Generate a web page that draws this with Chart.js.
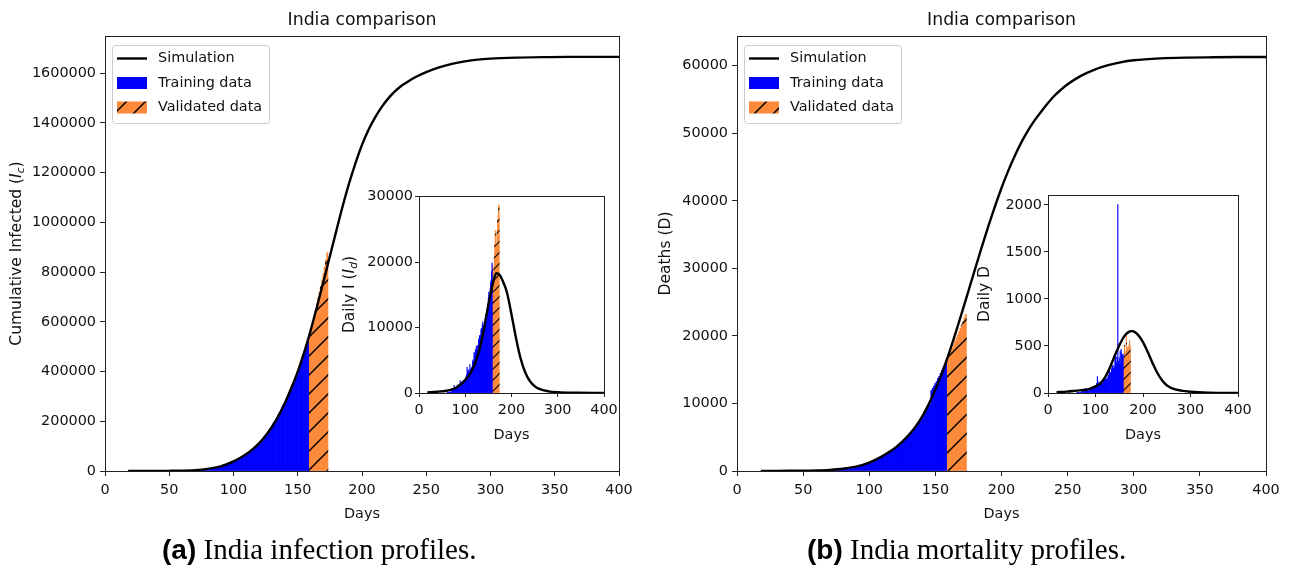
<!DOCTYPE html>
<html>
<head>
<meta charset="utf-8">
<script src="https://cdn.jsdelivr.net/npm/chart.js@4.4.1/dist/chart.umd.min.js"></script>
<style>
  body { margin: 0; width: 1295px; height: 569px; background: #fff; position: relative; overflow: hidden; }
  canvas { position: absolute; }
  .cap { position: absolute; top: 533px; font: 29px "Liberation Serif", serif; white-space: nowrap; color: #000; }
  .cap b { font-family: "Liberation Sans", sans-serif; font-size: 28px; }
</style>
</head>
<body>
<canvas id="mainCases" width="640" height="569" style="left:0;top:0"></canvas>
<canvas id="mainDeaths" width="655" height="569" style="left:640px;top:0"></canvas>
<canvas id="dailyCases" width="300" height="270" style="left:330px;top:180px"></canvas>
<canvas id="dailyDeaths" width="300" height="270" style="left:960px;top:180px"></canvas>
<div class="cap" style="left:162px"><b>(a)</b> India infection profiles.</div>
<div class="cap" style="left:807px"><b>(b)</b> India mortality profiles.</div>
<script>
// reported data starts at day 61; days up to 158 were used for fitting, 159-173 held out
const firstDay = 61;

const casesTrain = [
  396, 499, 536, 657, 727, 887, 987, 1024, 1251, 1397,
  1998, 2543, 2567, 3082, 3588, 4778, 5311, 5916, 6725, 7598,
  8446, 9205, 10453, 11487, 12322, 13430, 14352, 15722, 17615, 18539,
  20080, 21370, 23077, 24530, 26283, 27890, 29451, 31324, 33062, 34863,
  37257, 39699, 42505, 46437, 49400, 52987, 56351, 59695, 62808, 67161,
  70768, 74292, 78055, 81997, 85784, 90648, 95698, 100328, 106475, 112028,
  118226, 124794, 131423, 138536, 144950, 150793, 158086, 165386, 173491, 181827, 190609,
  198370, 207191, 216824, 226713, 236184, 246622, 257486, 265928, 276146, 286579,
  297535, 308993, 320922, 332424, 343091, 354065, 366946, 380532, 395048, 410451,
  425282, 440215, 456183, 473105, 490401, 508953, 528859
];
const casesValid = [548318, 566840, 585481, 604641, 625544, 648315, 673165, 697413,
  719665, 742417, 767296, 793802, 820916, 849553, 878254];

const dailyCasesTrain = [
  66, 103, 37, 121, 70, 160, 100, 37, 227, 146,
  601, 545, 24, 515, 506, 1190, 533, 605, 809, 873,
  848, 759, 1248, 1034, 835, 1108, 922, 1370, 1893, 924,
  1541, 1290, 1707, 1453, 1753, 1607, 1561, 1873, 1738, 1801,
  2394, 2442, 2806, 3932, 2963, 3587, 3364, 3344, 3113, 4353,
  3607, 3524, 3763, 3942, 3787, 4864, 5050, 4630, 6147, 5553,
  6198, 6568, 6629, 7113, 6414, 5843, 7293, 7300, 8105, 8336, 8782,
  7761, 8821, 9633, 9889, 9471, 10438, 10864, 8442, 10218, 10433,
  10956, 11458, 11929, 11502, 10667, 10974, 12881, 13586, 14516, 15403,
  14831, 14933, 15968, 16922, 17296, 18552, 19906
];
const dailyCasesValid = [19459, 18522, 18641, 19160, 20903, 22771, 24850, 24248,
  22252, 22752, 24879, 26506, 27114, 28637, 28701];

const deathsTrain = [
  7, 10, 10, 12, 20, 20, 24, 27, 32, 35,
  58, 72, 72, 86, 99, 136, 150, 178, 226, 246,
  288, 331, 358, 393, 405, 448, 486, 521, 559, 592,
  645, 681, 721, 780, 825, 881, 939, 1008, 1079, 1154,
  1223, 1323, 1391, 1566, 1694, 1783, 1889, 1985, 2101, 2212,
  2294, 2415, 2551, 2649, 2753, 2871, 3025, 3156, 3302, 3434,
  3584, 3726, 3868, 4024, 4172, 4344, 4534, 4711, 4980, 5185, 5408,
  5608, 5829, 6088, 6363, 6649, 6946, 7207, 7473, 7750, 8102,
  8498, 8884, 9195, 9520, 9900, 11903, 12237, 12573, 12948, 13254,
  13699, 14011, 14476, 14894, 15301, 15685, 16095
];
const deathsValid = [16475, 16893, 17400, 17834, 18213, 18655, 19268, 19693,
  20160, 20642, 21129, 21604, 22123, 22674, 23174];

const dailyDeathsTrain = [
  2, 3, 0, 2, 8, 0, 4, 3, 5, 3,
  23, 14, 0, 14, 13, 37, 14, 28, 48, 20,
  42, 43, 27, 35, 12, 43, 38, 35, 38, 33,
  53, 36, 40, 59, 45, 56, 58, 69, 71, 75,
  69, 100, 68, 175, 128, 89, 106, 96, 116, 111,
  82, 121, 136, 98, 104, 118, 154, 131, 146, 132,
  150, 142, 142, 156, 148, 172, 190, 177, 269, 205, 223,
  200, 221, 259, 275, 286, 297, 261, 266, 277, 352,
  396, 386, 311, 325, 380, 2003, 334, 336, 375, 306,
  445, 312, 465, 418, 407, 384, 410
];
const dailyDeathsValid = [380, 418, 507, 434, 379, 442, 613, 425, 467, 482, 487, 475, 519, 551, 500];

// model output, cumulative
const simDays = [18, 30, 40, 50, 60, 70, 80, 90, 100, 105, 110, 115, 120, 125, 130, 135, 140, 145,
  150, 155, 160, 165, 170, 175, 180, 185, 190, 195, 200, 205, 210, 215, 220, 225, 230, 235, 240,
  245, 250, 260, 270, 280, 290, 300, 320, 340, 360, 380, 400];
const simCases = [100, 200, 350, 700, 1500, 3500, 8500, 19000, 39000, 52000, 68000, 88000,
  112000, 142000, 178000, 222000, 274000, 334000, 400000, 477000, 565000, 662000, 762000, 864000,
  966000, 1066000, 1158000, 1240000, 1312000, 1372000, 1421000, 1462000, 1496000, 1524000, 1547000,
  1564000, 1580000, 1593000, 1605000, 1624000, 1638000, 1648000, 1655000, 1659000, 1663000, 1665000,
  1666000, 1666000, 1666000];
const simDeaths = [5, 15, 30, 50, 90, 170, 330, 650, 1250, 1700, 2200, 2800, 3500, 4350, 5350, 6550,
  8050, 9900, 12050, 14500, 17250, 20250, 23400, 26650, 29900, 33100, 36200, 39150, 41900, 44400,
  46650, 48650, 50400, 51900, 53200, 54430, 55550, 56450, 57250, 58500, 59400, 60050, 60500, 60800,
  61080, 61200, 61250, 61280, 61300];

// model output, per day
const simDailyCaseDays = [18, 40, 60, 70, 80, 90, 100, 110, 120, 130, 140, 150, 160, 167, 175, 180,
  190, 200, 210, 220, 230, 240, 250, 260, 280, 300, 340, 400];
const simDailyCases = [100, 200, 350, 500, 800, 1300, 2000, 2900, 4300, 6500, 9600, 13500, 16800,
  18300, 18000, 17300, 15400, 12000, 8300, 5200, 3100, 1800, 1050, 620, 250, 110, 30, 5];
const simDailyDeathDays = [18, 40, 60, 80, 90, 100, 110, 120, 130, 140, 150, 160, 170, 176, 180,
  190, 200, 210, 220, 230, 240, 250, 260, 280, 300, 340, 400];
const simDailyDeaths = [8, 15, 25, 35, 50, 70, 100, 165, 265, 390, 505, 600, 650, 658, 655, 615,
  540, 435, 320, 215, 135, 82, 52, 25, 13, 4, 1];

const BLUE = '#0000ff';
const ORANGE = '#fc8a3a';
const INK = '#111';
const FONT = '"DejaVu Sans", sans-serif';

Chart.defaults.font.family = FONT;
Chart.defaults.color = INK;

const xy = (xs, ys) => ys.map((y, i) => ({ x: xs[i], y }));
const dayRange = (start, n) => Array.from({ length: n }, (_, i) => start + i);
const trainDays = dayRange(firstDay, casesTrain.length);
const validDays = dayRange(firstDay + casesTrain.length, casesValid.length);

// orange fill with '/' hatching, anchored to the canvas so it runs across bars
function hatch(ctx, step, lw) {
  const tile = document.createElement('canvas');
  tile.width = tile.height = step;
  const g = tile.getContext('2d');
  g.fillStyle = ORANGE;
  g.fillRect(0, 0, step, step);
  g.strokeStyle = '#000';
  g.lineWidth = lw;
  g.beginPath();
  for (const k of [-step, 0, step]) {
    g.moveTo(k - 1, step + 1);
    g.lineTo(k + step + 1, -1);
  }
  g.stroke();
  return ctx.createPattern(tile, 'repeat');
}

// text made of runs, some italic or lowered as subscripts
function richText(ctx, parts, x, y, size, vertical) {
  const fontOf = p => (p.it ? 'italic ' : '') + (p.sub ? size * 0.7 : size) + 'px ' + FONT;
  ctx.save();
  ctx.translate(x, y);
  if (vertical) ctx.rotate(-Math.PI / 2);
  ctx.textAlign = 'left';
  ctx.textBaseline = 'middle';
  ctx.fillStyle = INK;
  let w = 0;
  parts.forEach(p => { ctx.font = fontOf(p); w += ctx.measureText(p.t).width; });
  let cx = -w / 2;
  parts.forEach(p => {
    ctx.font = fontOf(p);
    ctx.fillText(p.t, cx, p.sub ? size * 0.28 : 0);
    cx += ctx.measureText(p.t).width;
  });
  ctx.restore();
}

function roundBox(ctx, x, y, w, h, r) {
  ctx.beginPath();
  ctx.moveTo(x + r, y);
  ctx.arcTo(x + w, y, x + w, y + h, r);
  ctx.arcTo(x + w, y + h, x, y + h, r);
  ctx.arcTo(x, y + h, x, y, r);
  ctx.arcTo(x, y, x + w, y, r);
  ctx.closePath();
}

// white axes face, full frame, titles and the in-plot legend
const panelDecor = {
  id: 'panelDecor',
  beforeDraw(chart) {
    const { ctx, chartArea: a } = chart;
    ctx.save();
    ctx.fillStyle = '#fff';
    ctx.fillRect(a.left, a.top, a.width, a.height);
    ctx.restore();
  },
  afterDraw(chart, args, o) {
    const { ctx, chartArea: a } = chart;
    ctx.save();
    ctx.strokeStyle = '#222';
    ctx.lineWidth = 1;
    ctx.strokeRect(Math.round(a.left) + 0.5, Math.round(a.top) + 0.5, Math.round(a.width), Math.round(a.height));

    ctx.fillStyle = INK;
    ctx.textAlign = 'center';
    ctx.textBaseline = 'middle';
    const cx = (a.left + a.right) / 2;
    if (o.title) {
      ctx.font = '17.3px ' + FONT;
      ctx.fillText(o.title, cx, a.top - 15.5);
    }
    ctx.font = '14.4px ' + FONT;
    ctx.fillText(o.xTitle, cx, a.bottom + o.xGap);
    richText(ctx, o.yTitle, a.left - o.yGap, (a.top + a.bottom) / 2, 15.5, true);

    if (o.legend) {
      const bx = a.left + 7, by = a.top + 9, bw = 157, bh = 78;
      roundBox(ctx, bx + 0.5, by + 0.5, bw, bh, 3);
      ctx.fillStyle = 'rgba(255,255,255,0.8)';
      ctx.fill();
      ctx.strokeStyle = '#cccccc';
      ctx.stroke();
      chart.data.datasets.forEach((ds, i) => {
        const cy = by + 13.5 + i * 24.5;
        if (ds.type === 'line') {
          ctx.strokeStyle = ds.borderColor;
          ctx.lineWidth = ds.borderWidth;
          ctx.beginPath();
          ctx.moveTo(bx + 5, cy);
          ctx.lineTo(bx + 35, cy);
          ctx.stroke();
        } else {
          ctx.fillStyle = ds.backgroundColor;
          ctx.fillRect(bx + 5, cy - 6, 30, 12);
        }
        ctx.fillStyle = INK;
        ctx.textAlign = 'left';
        ctx.font = '14.4px ' + FONT;
        ctx.fillText(ds.label, bx + 46, cy);
      });
    }
    ctx.restore();
  }
};

// fixed-size axis with ticks every `step` from 0, labels without separators
function axis(max, step, size, fit, tick, pad) {
  return {
    type: 'linear', min: 0, max, offset: false,
    afterFit: s => { s[fit] = size; },
    afterBuildTicks: s => {
      const ticks = [];
      for (let v = 0; v <= max; v += step) ticks.push({ value: v });
      s.ticks = ticks;
    },
    ticks: { autoSkip: false, maxRotation: 0, padding: pad, font: { size: 14.4 }, color: INK,
      callback: v => String(v) },
    grid: { offset: false, drawOnChartArea: false, drawTicks: true, tickLength: tick, tickColor: '#222' },
    border: { color: '#222', width: 1 }
  };
}

function panel(id, c) {
  const ctx = document.getElementById(id).getContext('2d');
  return new Chart(ctx, {
    data: {
      datasets: [
        { type: 'line', label: 'Simulation', data: xy(c.simX, c.simY), borderColor: '#000',
          borderWidth: 2.4, pointRadius: 0, cubicInterpolationMode: 'monotone', order: 0 },
        { type: 'bar', label: 'Training data', data: xy(trainDays, c.train), backgroundColor: BLUE,
          grouped: false, categoryPercentage: 1, barPercentage: 1, order: 1 },
        { type: 'bar', label: 'Validated data', data: xy(validDays, c.valid),
          backgroundColor: hatch(ctx, c.hatch, c.hatchWidth),
          grouped: false, categoryPercentage: 1, barPercentage: 1, order: 1 }
      ]
    },
    options: {
      responsive: false,
      animation: false,
      devicePixelRatio: 1,
      layout: { padding: c.pad },
      scales: {
        x: axis(400, c.xStep, c.xH, 'height', c.tick, c.xPad),
        y: axis(c.yMax, c.yStep, c.yW, 'width', c.tick, c.yPad)
      },
      plugins: {
        legend: { display: false },
        tooltip: { enabled: false },
        panelDecor: c.decor
      }
    },
    plugins: [panelDecor]
  });
}

panel('mainCases', {
  simX: simDays, simY: simCases, train: casesTrain, valid: casesValid,
  hatch: 19, hatchWidth: 1.5,
  pad: { top: 36, right: 21, bottom: 0, left: 0 }, xH: 98, yW: 105,
  xStep: 50, yMax: 1750000, yStep: 200000, tick: 5, xPad: 6, yPad: 4,
  decor: { title: 'India comparison', xTitle: 'Days', xGap: 43, yGap: 88, legend: true,
    yTitle: [{ t: 'Cumulative Infected (' }, { t: 'I', it: true }, { t: 'c', it: true, sub: true }, { t: ')' }] }
});

panel('mainDeaths', {
  simX: simDays, simY: simDeaths, train: deathsTrain, valid: deathsValid,
  hatch: 19, hatchWidth: 1.5,
  pad: { top: 36, right: 29, bottom: 0, left: 0 }, xH: 98, yW: 97,
  xStep: 50, yMax: 64400, yStep: 10000, tick: 5, xPad: 6, yPad: 4,
  decor: { title: 'India comparison', xTitle: 'Days', xGap: 43, yGap: 71, legend: true,
    yTitle: [{ t: 'Deaths (D)' }] }
});

panel('dailyCases', {
  simX: simDailyCaseDays, simY: simDailyCases, train: dailyCasesTrain, valid: dailyCasesValid,
  hatch: 11, hatchWidth: 1.1,
  pad: { top: 16, right: 26, bottom: 0, left: 0 }, xH: 57, yW: 89,
  xStep: 100, yMax: 30100, yStep: 10000, tick: 4, xPad: 5, yPad: 2,
  decor: { xTitle: 'Days', xGap: 42, yGap: 69, legend: false,
    yTitle: [{ t: 'Daily I (' }, { t: 'I', it: true }, { t: 'd', it: true, sub: true }, { t: ')' }] }
});

panel('dailyDeaths', {
  simX: simDailyDeathDays, simY: simDailyDeaths, train: dailyDeathsTrain, valid: dailyDeathsValid,
  hatch: 11, hatchWidth: 1.1,
  pad: { top: 15, right: 22, bottom: 0, left: 0 }, xH: 57, yW: 88,
  xStep: 100, yMax: 2105, yStep: 500, tick: 4, xPad: 5, yPad: 2,
  decor: { xTitle: 'Days', xGap: 42, yGap: 63, legend: false,
    yTitle: [{ t: 'Daily D' }] }
});
</script>
</body>
</html>
